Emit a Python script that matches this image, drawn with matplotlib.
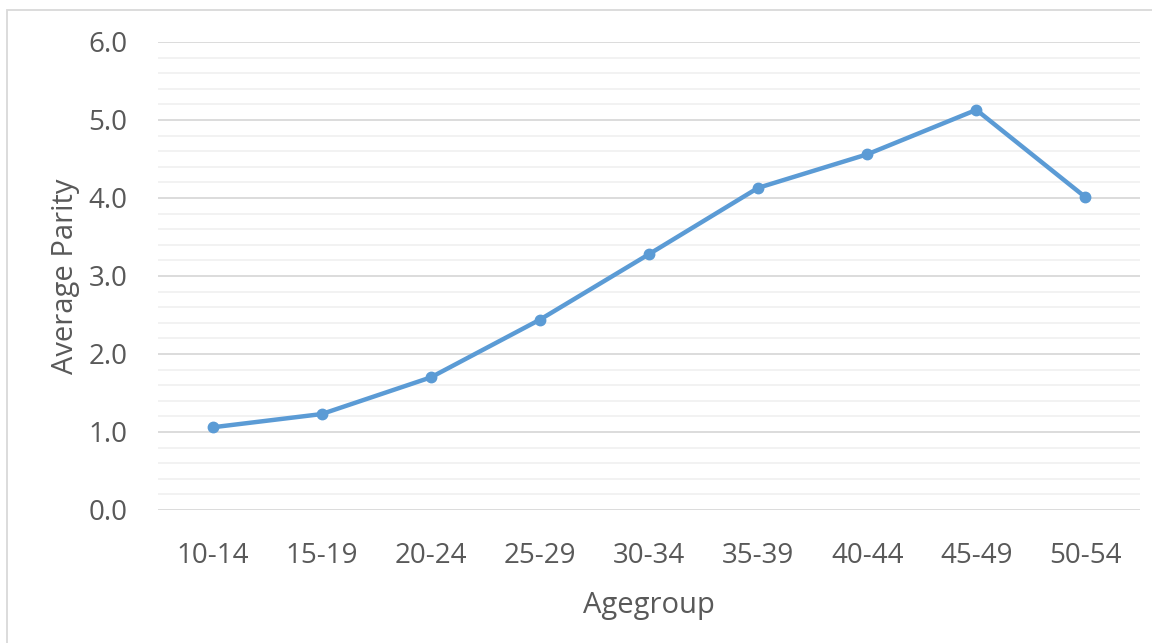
import matplotlib
matplotlib.use("Agg")
import matplotlib.pyplot as plt
from matplotlib.patches import Rectangle
from matplotlib.ticker import MultipleLocator, FormatStrFormatter

plt.rcParams['font.family'] = ['Open Sans', 'DejaVu Sans']

# average parity by age group of mother
age_groups = ["10-14", "15-19", "20-24", "25-29", "30-34",
              "35-39", "40-44", "45-49", "50-54"]
avg_parity = [1.06, 1.23, 1.70, 2.44, 3.28, 4.13, 4.56, 5.13, 4.01]

text_grey = "#595959"
line_blue = "#5B9BD5"

fig = plt.figure(figsize=(11.52, 6.43), dpi=100)
ax = fig.add_axes([158 / 1152, 1 - 510 / 643, 982 / 1152, 468 / 643])

x = list(range(len(age_groups)))
ax.plot(x, avg_parity, color=line_blue, linewidth=3.2, marker='o',
        markersize=7.5, solid_capstyle='round', zorder=3)

ax.set_xlim(-0.5, len(age_groups) - 0.5)
ax.set_ylim(0, 6)
ax.yaxis.set_major_locator(MultipleLocator(1))
ax.yaxis.set_minor_locator(MultipleLocator(0.2))
ax.yaxis.set_major_formatter(FormatStrFormatter('%.1f'))
ax.set_xticks(x)
ax.set_xticklabels(age_groups)

ax.grid(axis='y', which='major', color='#D9D9D9', linewidth=1.3)
ax.grid(axis='y', which='minor', color='#EFEFEF', linewidth=1.1)
ax.set_axisbelow(True)
for s in ax.spines.values():
    s.set_visible(False)
ax.tick_params(axis='both', which='both', length=0, labelsize=20,
               labelcolor=text_grey)
ax.tick_params(axis='y', pad=22)
ax.tick_params(axis='x', pad=23)

ax.set_xlabel("Agegroup", fontsize=21, color=text_grey, labelpad=15)
ax.set_ylabel("Average Parity", fontsize=21, color=text_grey, labelpad=6)

# chart area border
fig.patches.append(Rectangle((7 / 1152, -0.05), 1.1, 1 - 10 / 643 + 0.05,
                             transform=fig.transFigure, fill=False,
                             edgecolor='#D9D9D9', linewidth=1.3))

fig.savefig("out.png", dpi=100)
